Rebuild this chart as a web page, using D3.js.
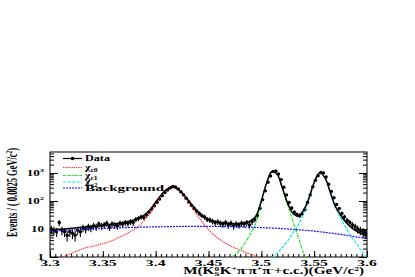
<!DOCTYPE html>
<html>
<head>
<meta charset="utf-8">
<title>chi_cJ mass fit</title>
<style>
    html, body { margin: 0; padding: 0; background: #fff; }
    svg { display: block; }
    text { font-family: "Liberation Serif", "Times New Roman", serif; font-weight: bold; fill: #000; }
    .axis path { display: none; }
    .axis line { stroke: #000; stroke-width: 1px; }
</style>
<script src="https://cdn.jsdelivr.net/npm/d3@7"></script>
</head>
<body>
<script>

// 120 bins of 0.0025 GeV starting at 3.30
var binStart = 3.3, binWidth = 0.0025;
var events = [
    10, 9, 8, 17, 9, 8, 6, 8, 7, 6, 9, 8, 11, 10, 12, 11, 13, 12, 15, 13,
    14, 16, 12, 15, 14, 13, 16, 15, 17, 16, 18, 17, 22, 24, 27, 26, 32, 40, 52, 68,
    90, 118, 155, 200, 245, 290, 330, 315, 270, 215, 168, 125, 92, 70, 55, 44, 36, 30, 27, 22,
    21, 19, 17, 18, 16, 15, 17, 14, 16, 13, 15, 14, 16, 15, 17, 14, 18, 22, 30, 55,
    110, 230, 470, 780, 1120, 1180, 920, 580, 310, 165, 88, 56, 40, 33, 30, 35, 50, 88, 165, 320,
    550, 800, 1040, 1010, 720, 400, 220, 130, 75, 54, 36, 27, 20, 17, 14, 12, 10, 9, 8, 7
];

// fit components sampled every 0.005 GeV from 3.300 to 3.600 (0 = not drawn)
var fitStep = 0.005;
var chic0 = [
    0.7, 0.85, 0.97, 1.1, 1.35, 1.6, 1.9, 2.2, 2.4, 2.7, 3.0, 3.4, 4.0, 5.0, 6.0, 7.6, 10, 13.5, 22, 38,
    80, 150, 245, 305, 270, 185, 105, 56, 29, 16, 9.5, 6.2, 4.4, 3.3, 2.6, 2.1, 1.75, 1.45, 1.25, 1.08,
    0.95, 0.85, 0.76, 0.7, 0.64, 0.6, 0.55, 0.5, 0.47, 0.44, 0.41, 0.39, 0.37, 0.35, 0.33, 0.31, 0.3, 0.29, 0.28, 0.27,
    0.26
];
var chic1 = [
    0, 0, 0, 0, 0, 0, 0, 0, 0, 0, 0, 0, 0, 0, 0, 0, 0, 0, 0, 0,
    0, 0, 0, 0, 0, 0, 0, 0, 0, 0, 0, 0, 0.5, 0.7, 0.9, 1.2, 1.8, 3.4, 7, 17,
    90, 430, 1120, 880, 270, 68, 18, 5, 1.4, 0.5, 0.2, 0, 0, 0, 0, 0, 0, 0, 0, 0,
    0
];
var chic2 = [
    0, 0, 0, 0, 0, 0, 0, 0, 0, 0, 0, 0, 0, 0, 0, 0, 0, 0, 0, 0,
    0, 0, 0, 0, 0, 0, 0, 0, 0, 0, 0, 0, 0, 0, 0, 0, 0, 0, 0, 0,
    0.5, 0.7, 0.95, 1.4, 2.2, 3.8, 7.5, 14, 36, 115, 450, 1000, 690, 210, 58, 25, 11, 5.5, 3, 1.6,
    0.9
];
var background = [
    8.7, 8.8, 8.9, 9.0, 9.2, 9.4, 9.6, 9.8, 10.0, 10.2, 10.4, 10.6, 10.8, 11.0, 11.1, 11.3, 11.4, 11.6, 11.7, 11.8,
    11.9, 12.0, 12.1, 12.2, 12.3, 12.3, 12.4, 12.4, 12.4, 12.4, 12.4, 12.3, 12.3, 12.2, 12.1, 12.0, 11.9, 11.7, 11.6, 11.4,
    11.2, 11.0, 10.8, 10.6, 10.3, 10.0, 9.7, 9.4, 9.1, 8.8, 8.4, 8.0, 7.6, 7.2, 6.8, 6.4, 6.0, 5.6, 5.2, 4.9,
    4.5
];

var xMajor = [3.3, 3.35, 3.4, 3.45, 3.5, 3.55, 3.6];
var xLabels = ["3.3", "3.35", "3.4", "3.45", "3.5", "3.55", "3.6"];
var yMajor = [1, 10, 100, 1000];
var yLabels = [["1", ""], ["10", ""], ["10", "2"], ["10", "3"]];

var W = 415, H = 277;
var pLeft = 50, pRight = 367, pTop = 152, pBottom = 257;
var SX = 1.75;   // the picture is stretched horizontally

var x = d3.scaleLinear().domain([3.3, 3.6]).range([pLeft, pRight]);
var y = d3.scaleLog().domain([1, Math.pow(10, 3.75)]).range([pBottom, pTop]);

var svg = d3.select("body").append("svg").attr("width", W).attr("height", H);

svg.append("defs").append("clipPath").attr("id", "plotclip")
    .append("rect").attr("x", pLeft).attr("y", pTop).attr("width", pRight - pLeft).attr("height", pBottom - pTop);

function label(g, tx, ty, anchor, size, str, sup, sub, sx) {
    var t = g.append("text")
        .attr("transform", "translate(" + tx + "," + ty + ") scale(" + (sx || SX) + ",1)")
        .attr("text-anchor", anchor)
        .style("font-size", size + "px");
    t.append("tspan").text(str);
    if (sup) t.append("tspan").attr("dy", -size * 0.45).style("font-size", (size * 0.65) + "px").text(sup);
    if (sub) t.append("tspan").attr("dy", size * 0.3).style("font-size", (size * 0.65) + "px").text(sub);
    return t;
}

// minor tick values
var yMinor = [];
[1, 10, 100, 1000].forEach(function(d) {
    for (var k = 2; k <= 9; k++) if (d * k < y.domain()[1]) yMinor.push(d * k);
});
var xMinor = d3.range(61).map(function(i) { return 3.3 + i * 0.005; });

// axes (ticks inward)
svg.append("g").attr("class", "axis").attr("transform", "translate(0," + pBottom + ")")
    .call(d3.axisBottom(x).tickValues(xMinor).tickSizeInner(-3).tickSizeOuter(0).tickFormat(""));
svg.append("g").attr("class", "axis").attr("transform", "translate(0," + pBottom + ")")
    .call(d3.axisBottom(x).tickValues(xMajor).tickSizeInner(-6).tickSizeOuter(0).tickFormat(""));
svg.append("g").attr("class", "axis").attr("transform", "translate(" + pLeft + ",0)")
    .call(d3.axisLeft(y).tickValues(yMinor).tickSizeInner(-4).tickSizeOuter(0).tickFormat(""));
svg.append("g").attr("class", "axis").attr("transform", "translate(" + pLeft + ",0)")
    .call(d3.axisLeft(y).tickValues(yMajor).tickSizeInner(-8).tickSizeOuter(0).tickFormat(""));
svg.append("g").attr("class", "axis").attr("transform", "translate(" + pRight + ",0)")
    .call(d3.axisRight(y).tickValues(yMinor).tickSizeInner(-4).tickSizeOuter(0).tickFormat(""));
svg.append("g").attr("class", "axis").attr("transform", "translate(" + pRight + ",0)")
    .call(d3.axisRight(y).tickValues(yMajor).tickSizeInner(-8).tickSizeOuter(0).tickFormat(""));

svg.append("rect").attr("x", pLeft).attr("y", pTop).attr("width", pRight - pLeft).attr("height", pBottom - pTop)
    .attr("fill", "none").attr("stroke", "#000").attr("stroke-width", 1);

// tick labels
var labs = svg.append("g");
xMajor.forEach(function(v, i) {
    label(labs, x(v), 266, "middle", 9, xLabels[i]);
});
yMajor.forEach(function(v, i) {
    label(labs, pLeft - 6, y(v) + 2.5, "end", 7.5, yLabels[i][0], yLabels[i][1]);
});

// axis titles
var xt = svg.append("text")
    .attr("transform", "translate(" + (pRight - 3) + ",274) scale(1.6,1)")
    .attr("text-anchor", "end").style("font-size", "9.5px");
xt.append("tspan").text("M(K");
xt.append("tspan").attr("dy", -3).style("font-size", "6px").text("0");
xt.append("tspan").attr("dx", -3).attr("dy", 5).style("font-size", "6px").text("S");
xt.append("tspan").attr("dy", -2).text("K");
xt.append("tspan").attr("dy", -3).style("font-size", "6px").text("+");
xt.append("tspan").attr("dy", 3).text("\u03c0");
xt.append("tspan").attr("dy", -3).style("font-size", "6px").text("-");
xt.append("tspan").attr("dy", 3).text("\u03c0");
xt.append("tspan").attr("dy", -3).style("font-size", "6px").text("+");
xt.append("tspan").attr("dy", 3).text("\u03c0");
xt.append("tspan").attr("dy", -3).style("font-size", "6px").text("-");
xt.append("tspan").attr("dy", 3).text("+c.c.)(GeV/c");
xt.append("tspan").attr("dy", -3).style("font-size", "6px").text("2");
xt.append("tspan").attr("dy", 3).text(")");

var yt = svg.append("text")
    .attr("transform", "translate(16.5,148) scale(" + SX + ",1) rotate(-90)")
    .attr("text-anchor", "end").style("font-size", "8px")
    .attr("textLength", 89).attr("lengthAdjust", "spacingAndGlyphs");
yt.append("tspan").text("Events / ( 0.0025 GeV/c");
yt.append("tspan").attr("dy", -2.5).style("font-size", "5px").text("2");
yt.append("tspan").attr("dy", 2.5).text(")");

// data with error bars
var plot = svg.append("g").attr("clip-path", "url(#plotclip)");
var pts = events.map(function(n, i) { return { m: binStart + (i + 0.5) * binWidth, n: n }; });

plot.selectAll(".ebar").data(pts).enter().append("line")
    .attr("x1", function(d) { return x(d.m); }).attr("x2", function(d) { return x(d.m); })
    .attr("y1", function(d) { return y(Math.max(d.n - Math.sqrt(d.n), 1)); })
    .attr("y2", function(d) { return y(d.n + Math.sqrt(d.n)); })
    .attr("stroke", "#000").attr("stroke-width", 1.1);
plot.selectAll(".hbar").data(pts).enter().append("line")
    .attr("x1", function(d) { return x(d.m - binWidth / 2); }).attr("x2", function(d) { return x(d.m + binWidth / 2); })
    .attr("y1", function(d) { return y(d.n); }).attr("y2", function(d) { return y(d.n); })
    .attr("stroke", "#000").attr("stroke-width", 1.1);
plot.selectAll("circle").data(pts).enter().append("circle")
    .attr("cx", function(d) { return x(d.m); }).attr("cy", function(d) { return y(d.n); })
    .attr("r", 1.7).attr("fill", "#000");

// fit curves
var fitMass = d3.range(chic0.length).map(function(i) { return 3.3 + i * fitStep; });
var total = fitMass.map(function(m, i) { return chic0[i] + chic1[i] + chic2[i] + background[i]; });

var line = d3.line()
    .defined(function(d) { return d[1] > 0; })
    .x(function(d) { return x(d[0]); })
    .y(function(d) { return y(d[1]); })
    .curve(d3.curveCatmullRom);

function zipVals(vals) { return fitMass.map(function(m, i) { return [m, vals[i]]; }); }

var comps = [
    { vals: chic0, color: "#ff2020", dash: "1.2,1" },
    { vals: chic1, color: "#10e010", dash: "2.5,1,1,1" },
    { vals: chic2, color: "#00e8f0", dash: "3,1.5" },
    { vals: background, color: "#1010ff", dash: "2,1" }
];
comps.forEach(function(c) {
    plot.append("path").attr("d", line(zipVals(c.vals)))
        .attr("fill", "none").attr("stroke", c.color).attr("stroke-width", 1.2)
        .attr("stroke-dasharray", c.dash);
});
plot.append("path").attr("d", line(zipVals(total)))
    .attr("fill", "none").attr("stroke", "#000").attr("stroke-width", 1.5);

// legend
var leg = svg.append("g");
var legRows = [
    { y: 158.5, color: "#000", dash: null, name: "Data", len: 25 },
    { y: 167.5, color: "#ff2020", dash: "1.2,1", chi: "c0" },
    { y: 175.5, color: "#10e010", dash: "2.5,1,1,1", chi: "c1" },
    { y: 182, color: "#00e8f0", dash: "3,1.5", chi: "c2" },
    { y: 188, color: "#1010ff", dash: "2,1", name: "Background", len: 79 }
];
legRows.forEach(function(r) {
    leg.append("line").attr("x1", 63).attr("x2", 82).attr("y1", r.y).attr("y2", r.y)
        .attr("stroke", r.color).attr("stroke-width", 1.2)
        .attr("stroke-dasharray", r.dash);
    if (r.name === "Data") {
        leg.append("circle").attr("cx", 72.5).attr("cy", r.y).attr("r", 1.8).attr("fill", "#000");
    }
    if (r.name) {
        leg.append("text").attr("x", 85).attr("y", r.y + 2.8).style("font-size", "8.5px")
            .attr("textLength", r.len).attr("lengthAdjust", "spacingAndGlyphs").text(r.name);
    } else {
        label(leg, 85, r.y + 2, "start", 9, "\u03c7", null, r.chi, 1.3);
    }
});

</script>
</body>
</html>
